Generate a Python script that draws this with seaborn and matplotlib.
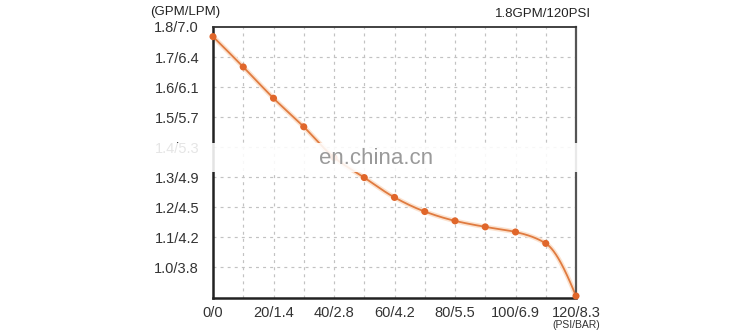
import numpy as np
import pandas as pd
import matplotlib
matplotlib.use("Agg")
import matplotlib.pyplot as plt
import seaborn as sns
from matplotlib.patches import Rectangle

# ---- data ----
psi = [0, 10, 20, 30, 40, 50, 60, 70, 80, 90, 100, 110, 120]
gpm = [1.768, 1.667, 1.563, 1.468, 1.366, 1.299, 1.233, 1.186, 1.155, 1.135, 1.118, 1.080, 0.905]
y_ticks = [1.0, 1.1, 1.2, 1.3, 1.4, 1.5, 1.6, 1.7, 1.8]
y_labels = ["1.0/3.8", "1.1/4.2", "1.2/4.5", "1.3/4.9", "1.4/5.3", "1.5/5.7", "1.6/6.1", "1.7/6.4", "1.8/7.0"]
x_ticks = [0, 20, 40, 60, 80, 100, 120]
x_labels = ["0/0", "20/1.4", "40/2.8", "60/4.2", "80/5.5", "100/6.9", "120/8.3"]


def pchip(x, y, xs):
    x = np.asarray(x, float); y = np.asarray(y, float)
    h = np.diff(x); d = np.diff(y) / h
    n = len(x); m = np.zeros(n)
    for k in range(1, n - 1):
        if d[k - 1] * d[k] > 0:
            w1 = 2 * h[k] + h[k - 1]; w2 = h[k] + 2 * h[k - 1]
            m[k] = (w1 + w2) / (w1 / d[k - 1] + w2 / d[k])
    def end(h0, h1, d0, d1):
        v = ((2 * h0 + h1) * d0 - h0 * d1) / (h0 + h1)
        if np.sign(v) != np.sign(d0):
            v = 0.0
        elif np.sign(d0) != np.sign(d1) and abs(v) > abs(3 * d0):
            v = 3 * d0
        return v
    m[0] = end(h[0], h[1], d[0], d[1])
    m[-1] = end(h[-1], h[-2], d[-1], d[-2])
    idx = np.clip(np.searchsorted(x, xs) - 1, 0, n - 2)
    t = (xs - x[idx]) / h[idx]
    h00 = 2 * t**3 - 3 * t**2 + 1; h10 = t**3 - 2 * t**2 + t
    h01 = -2 * t**3 + 3 * t**2; h11 = t**3 - t**2
    return h00 * y[idx] + h10 * h[idx] * m[idx] + h01 * y[idx + 1] + h11 * h[idx] * m[idx + 1]


xs = np.linspace(psi[0], psi[-1], 600)
curve = pd.DataFrame({"psi": xs, "gpm": pchip(psi, gpm, xs)})
pts = pd.DataFrame({"psi": psi, "gpm": gpm})

sns.set_theme(style="white")
plt.rcParams["font.family"] = ["Liberation Sans", "DejaVu Sans"]

fig = plt.figure(figsize=(7.5, 3.34), dpi=100)
ax = fig.add_axes([213 / 750, 1 - 297.5 / 334, 363 / 750, 270.5 / 334])

line_c = "#E07B40"
sns.lineplot(data=curve, x="psi", y="gpm", ax=ax, color="#FBE2CF", linewidth=3.5, zorder=3)
sns.lineplot(data=curve, x="psi", y="gpm", ax=ax, color=line_c, linewidth=1.3, zorder=4)
sc = sns.scatterplot(data=pts, x="psi", y="gpm", ax=ax, color="#E0662A", s=26,
                     edgecolor="none", zorder=6, clip_on=False)

ax.set_xlim(0, 120)
ax.set_ylim(0.9, 1.8)
ax.set_xlabel(""); ax.set_ylabel("")

# grid
grid_kw = dict(color="#c2c2c2", lw=0.85, ls=(0, (2.5, 3.5)), zorder=1)
for gx in range(10, 120, 10):
    ax.axvline(gx, **grid_kw)
for gy in [1.0, 1.1, 1.2, 1.3, 1.4, 1.5, 1.6, 1.7]:
    ax.axhline(gy, **grid_kw)

ax.set_yticks(y_ticks)
ax.set_yticklabels(y_labels, fontsize=10.5, color="#333333")
ax.set_xticks(x_ticks)
ax.set_xticklabels(x_labels, fontsize=10.5, color="#333333")
ax.tick_params(axis="both", length=0)
ax.tick_params(axis="y", pad=10)
ax.tick_params(axis="x", pad=6)

for s in ["left", "bottom"]:
    ax.spines[s].set_color("#222222"); ax.spines[s].set_linewidth(1.8)
ax.spines["top"].set_color("#333333"); ax.spines["top"].set_linewidth(1.3)
ax.spines["right"].set_color("#555555"); ax.spines["right"].set_linewidth(1.6)
for s in ax.spines.values():
    s.set_zorder(5)

fig.text(150 / 750, 1 - 12 / 334, "(GPM/LPM)", fontsize=9.5, color="#222222", ha="left", va="center")
fig.text(591 / 750, 1 - 14 / 334, "1.8GPM/120PSI", fontsize=9.5, color="#222222", ha="right", va="center")
fig.text(576 / 750, 1 - 325 / 334, "(PSI/BAR)", fontsize=7.5, color="#333333", ha="center", va="center")

# watermark band
fig.patches.append(Rectangle((145 / 750, 1 - 172 / 334), 455 / 750, 29 / 334,
                             transform=fig.transFigure, facecolor="white", alpha=0.88,
                             edgecolor="none", zorder=10))
fig.text(376 / 750, 1 - 159 / 334, "en.china.cn", fontsize=16, color="#9a9a9a",
         ha="center", va="center", zorder=11)

fig.savefig("out.png", dpi=100)
